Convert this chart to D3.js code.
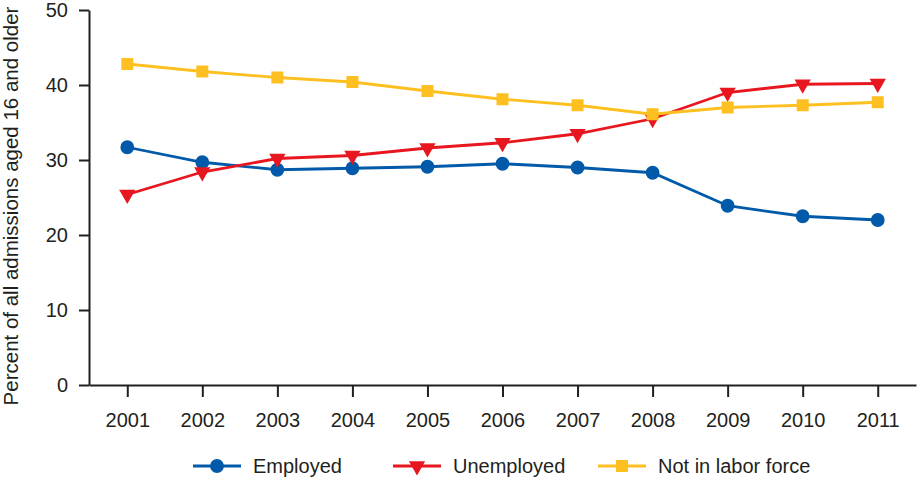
<!DOCTYPE html>
<html>
<head>
<meta charset="utf-8">
<script src="https://cdn.jsdelivr.net/npm/d3@7"></script>
<style>
  body { margin: 0; background: #fff; }
  svg { display: block; font-family: "Liberation Sans", Arial, sans-serif; }
  .axis path, .axis line { stroke: #231f20; stroke-width: 2; }
  .axis text { font-size: 20px; fill: #231f20; }
</style>
</head>
<body>
<svg id="chart" width="917" height="479"></svg>
<script>
// data
var years = ["2001","2002","2003","2004","2005","2006","2007","2008","2009","2010","2011"];
var employed = [31.7, 29.7, 28.7, 28.9, 29.1, 29.5, 29.0, 28.3, 23.9, 22.5, 22.0];
var unemployed = [25.4, 28.4, 30.2, 30.6, 31.6, 32.3, 33.5, 35.5, 39.0, 40.1, 40.2];
var notInLabor = [42.8, 41.8, 41.0, 40.4, 39.2, 38.1, 37.3, 36.1, 37.0, 37.3, 37.7];
var yTicks = [0, 10, 20, 30, 40, 50];

var series = [
  {name: "Employed", values: employed, color: "#005aa9", shape: "circle"},
  {name: "Unemployed", values: unemployed, color: "#e8161f", shape: "triangle"},
  {name: "Not in labor force", values: notInLabor, color: "#fdc020", shape: "square"}
];

var svg = d3.select("#chart");

var x_scale = d3.scalePoint()
  .domain(years)
  .range([89, 916])
  .padding(0.51);

var y_scale = d3.scaleLinear()
  .domain([0, 50])
  .range([385, 10]);

// axes
svg.append("g")
  .attr("class", "axis")
  .attr("transform", "translate(0,385)")
  .call(d3.axisBottom(x_scale).tickSize(12).tickSizeOuter(0).tickPadding(16));

svg.append("g")
  .attr("class", "axis")
  .attr("transform", "translate(89,0)")
  .call(d3.axisLeft(y_scale).tickValues(yTicks).tickSize(10).tickSizeOuter(0).tickPadding(11));

svg.append("text")
  .attr("transform", "translate(18,206) rotate(-90)")
  .attr("text-anchor", "middle")
  .style("font-size", "20.5px")
  .style("fill", "#231f20")
  .text("Percent of all admissions aged 16 and older");

function symbolFor(shape) {
  if (shape == "circle") return d3.symbol().type(d3.symbolCircle).size(150);
  if (shape == "square") return d3.symbol().type(d3.symbolSquare).size(144);
  // downward triangle
  return d3.symbol().type(d3.symbolTriangle).size(115);
}

var line = d3.line()
  .x(function(d, i) { return x_scale(years[i]); })
  .y(function(d) { return y_scale(d); });

series.forEach(function(s) {
  var g = svg.append("g");

  g.append("path")
    .datum(s.values)
    .attr("d", line)
    .attr("fill", "none")
    .attr("stroke", s.color)
    .attr("stroke-width", 2.8);

  g.selectAll("points")
    .data(s.values)
    .enter()
    .append("path")
    .attr("d", symbolFor(s.shape))
    .attr("transform", function(d, i) {
      var t = "translate(" + x_scale(years[i]) + "," + y_scale(d) + ")";
      if (s.shape == "triangle") t += " rotate(180)";
      return t;
    })
    .attr("fill", s.color);
});

// legend
var legendX = [193, 393, 598];
var legend = svg.append("g").attr("transform", "translate(0,466)");

series.forEach(function(s, i) {
  var item = legend.append("g").attr("transform", "translate(" + legendX[i] + ",0)");
  item.append("line")
    .attr("x1", 0).attr("x2", 48)
    .attr("y1", 0).attr("y2", 0)
    .attr("stroke", s.color)
    .attr("stroke-width", 2.8);
  item.append("path")
    .attr("d", symbolFor(s.shape))
    .attr("transform", "translate(24,0)" + (s.shape == "triangle" ? " rotate(180)" : ""))
    .attr("fill", s.color);
  item.append("text")
    .attr("x", 60)
    .attr("y", 7)
    .style("font-size", "20px")
    .style("fill", "#231f20")
    .text(s.name);
});
</script>
</body>
</html>
